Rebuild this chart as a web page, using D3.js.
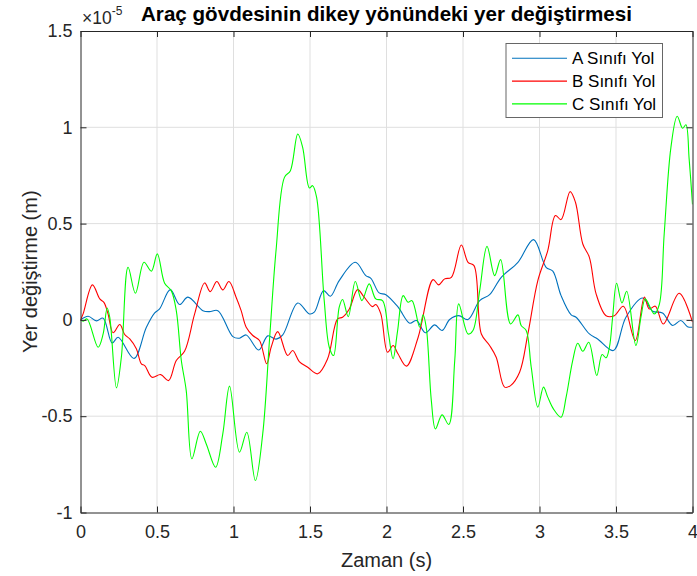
<!DOCTYPE html>
<html>
<head>
<meta charset="utf-8">
<script src="https://cdn.jsdelivr.net/npm/d3@7"></script>
<style>
  body { margin: 0; background: #fff; }
  svg { display: block; font-family: "Liberation Sans", Arial, Helvetica, sans-serif; }
</style>
</head>
<body>
<svg id="chart" width="697" height="576"></svg>
<script>
// values in units of 1e-5 m (axis shows the x10^-5 exponent)
var seriesNames = ["A Sınıfı Yol", "B Sınıfı Yol", "C Sınıfı Yol"];
var seriesColors = ["#0072BD", "#FF0000", "#00FF00"];

var tA = [0, 0.05, 0.104, 0.148, 0.207, 0.246, 0.35, 0.43, 0.485, 0.517, 0.587, 0.648, 0.702, 0.8, 0.843, 0.898,
  0.996, 1.039, 1.083, 1.165, 1.224, 1.278, 1.322, 1.42, 1.496, 1.528, 1.589, 1.633, 1.691, 1.796, 1.865, 1.898,
  1.952, 1.996, 2.076, 2.152, 2.196, 2.254, 2.315, 2.363, 2.413, 2.472, 2.533, 2.609, 2.674, 2.75, 2.859, 2.961,
  3.043, 3.087, 3.141, 3.207, 3.239, 3.326, 3.38, 3.483, 3.565, 3.674, 3.739, 3.804, 3.87, 3.924, 3.967, 4];
var vA = [0, 0.019, -0.005, 0.009, -0.12, -0.09, -0.2, -0.04, 0.036, 0.057, 0.157, 0.08, 0.118, 0.048, 0.043, 0.048,
  -0.087, -0.095, -0.078, -0.156, -0.083, -0.1, -0.078, 0.088, 0.031, 0.04, 0.152, 0.123, 0.204, 0.299, 0.23, 0.216,
  0.14, 0.131, 0.066, -0.017, -0.003, -0.067, -0.026, -0.055, 0.002, 0.022, 0.002, 0.1, 0.131, 0.221, 0.299, 0.417,
  0.273, 0.253, 0.126, 0.026, 0.014, -0.073, -0.099, -0.159, 0.014, 0.114, 0.045, 0.036, -0.029, -0.003, -0.035, -0.038];

var tB = [0, 0.017, 0.078, 0.126, 0.154, 0.18, 0.213, 0.257, 0.289, 0.322, 0.365, 0.398, 0.42, 0.467, 0.524, 0.576,
  0.626, 0.68, 0.746, 0.811, 0.848, 0.891, 0.93, 0.97, 1.017, 1.05, 1.083, 1.126, 1.17, 1.217, 1.246, 1.289,
  1.354, 1.387, 1.43, 1.485, 1.55, 1.615, 1.68, 1.713, 1.757, 1.811, 1.854, 1.909, 1.93, 1.963, 2.007, 2.043,
  2.075, 2.13, 2.207, 2.304, 2.341, 2.38, 2.424, 2.489, 2.533, 2.572, 2.62, 2.674, 2.717, 2.772, 2.811, 2.87,
  2.924, 2.989, 3.054, 3.104, 3.141, 3.2, 3.235, 3.283, 3.326, 3.37, 3.435, 3.489, 3.548, 3.626, 3.685, 3.717,
  3.757, 3.809, 3.913, 4];
var vB = [0, 0.031, 0.182, 0.109, 0.09, 0.031, -0.067, -0.024, -0.076, -0.099, -0.15, -0.228, -0.237, -0.298, -0.284, -0.315,
  -0.211, -0.163, 0.031, 0.192, 0.147, 0.199, 0.156, 0.199, 0.118, 0.048, -0.038, -0.081, -0.107, -0.228, -0.142, -0.061,
  -0.185, -0.159, -0.216, -0.246, -0.28, -0.202, 0.005, 0.014, 0.057, 0.157, 0.118, 0.069, 0.08, 0.031, -0.168, -0.133,
  -0.176, -0.24, -0.09, 0.209, 0.182, 0.213, 0.221, 0.389, 0.299, 0.282, -0.073, -0.133, -0.194, -0.349, -0.341, -0.272,
  -0.073, 0.204, 0.36, 0.542, 0.521, 0.666, 0.611, 0.394, 0.325, 0.135, 0.022, 0.022, 0.071, -0.107, 0.118, 0.057,
  0.071, -0.021, 0.138, -0.012];

var tC = [0, 0.017, 0.043, 0.115, 0.148, 0.174, 0.191, 0.235, 0.267, 0.311, 0.359, 0.415, 0.463, 0.502, 0.55, 0.593,
  0.626, 0.659, 0.691, 0.728, 0.783, 0.822, 0.883, 0.93, 0.974, 1.039, 1.087, 1.143, 1.191, 1.235, 1.278, 1.333,
  1.372, 1.42, 1.452, 1.496, 1.517, 1.543, 1.593, 1.626, 1.654, 1.691, 1.713, 1.75, 1.796, 1.839, 1.887, 1.93,
  1.974, 2.013, 2.043, 2.072, 2.109, 2.141, 2.167, 2.217, 2.239, 2.26, 2.293, 2.32, 2.363, 2.407, 2.446, 2.472,
  2.533, 2.565, 2.609, 2.657, 2.707, 2.746, 2.811, 2.859, 2.88, 2.913, 2.946, 2.989, 3.026, 3.054, 3.091, 3.141,
  3.174, 3.217, 3.25, 3.283, 3.322, 3.374, 3.409, 3.435, 3.457, 3.478, 3.504, 3.539, 3.57, 3.63, 3.663, 3.691,
  3.728, 3.75, 3.783, 3.815, 3.859, 3.9, 3.935, 3.957, 3.978, 4];
var vC = [0, -0.007, 0.005, -0.142, -0.073, 0.062, 0.014, -0.353, -0.194, 0.273, 0.138, 0.299, 0.253, 0.343, 0.19, 0.152,
  0.048, -0.211, -0.367, -0.721, -0.578, -0.644, -0.765, -0.592, -0.344, -0.687, -0.583, -0.834, -0.592, -0.107, 0.36, 0.74,
  0.775, 0.965, 0.896, 0.685, 0.697, 0.637, 0.1, -0.142, -0.185, 0.066, 0.106, 0.017, 0.199, 0.1, 0.187, 0.109,
  0.1, -0.073, -0.202, -0.06, 0.126, 0.092, 0.1, -0.038, 0.026, -0.04, -0.419, -0.566, -0.493, -0.543, -0.211, 0.083,
  -0.073, -0.055, 0.152, 0.382, 0.23, 0.313, -0.021, 0.026, -0.029, -0.055, -0.246, -0.453, -0.349, -0.401, -0.462, -0.505,
  -0.401, -0.211, -0.121, -0.163, -0.116, -0.289, -0.18, -0.197, -0.142, 0.014, 0.19, 0.088, 0.149, -0.133, 0.014, 0.109,
  0.057, 0.031, 0.08, 0.446, 0.896, 1.057, 0.995, 1.013, 0.836, 0.6];

var xTicks = [0, 0.5, 1, 1.5, 2, 2.5, 3, 3.5, 4];
var yTicks = [-1, -0.5, 0, 0.5, 1, 1.5];

var series = [
  { name: seriesNames[0], color: seriesColors[0], t: tA, v: vA },
  { name: seriesNames[1], color: seriesColors[1], t: tB, v: vB },
  { name: seriesNames[2], color: seriesColors[2], t: tC, v: vC }
];

var outerWidth = 697, outerHeight = 576;
var margin = { left: 80.5, top: 31, right: 4.5, bottom: 63.5 };
var innerWidth = outerWidth - margin.left - margin.right;
var innerHeight = outerHeight - margin.top - margin.bottom;
var axisColor = "#262626";

var svg = d3.select("#chart");
var g = svg.append("g").attr("transform", "translate(" + margin.left + "," + margin.top + ")");

var xScale = d3.scaleLinear().domain([0, 4]).range([0, innerWidth]);
var yScale = d3.scaleLinear().domain([-1, 1.5]).range([innerHeight, 0]);

// grid
g.append("g").selectAll("line").data(xTicks.slice(1, -1)).enter().append("line")
  .attr("x1", function (d) { return xScale(d); }).attr("x2", function (d) { return xScale(d); })
  .attr("y1", 0).attr("y2", innerHeight)
  .attr("stroke", "#dfdfdf").attr("stroke-width", 1);
g.append("g").selectAll("line").data(yTicks.slice(1, -1)).enter().append("line")
  .attr("y1", function (d) { return yScale(d); }).attr("y2", function (d) { return yScale(d); })
  .attr("x1", 0).attr("x2", innerWidth)
  .attr("stroke", "#dfdfdf").attr("stroke-width", 1);

// lines
var line = d3.line()
  .x(function (d) { return xScale(d[0]); })
  .y(function (d) { return yScale(d[1]); })
  .curve(d3.curveCatmullRom.alpha(0.5));

g.append("defs").append("clipPath").attr("id", "clip")
  .append("rect").attr("width", innerWidth).attr("height", innerHeight);

series.forEach(function (s) {
  var pts = s.t.map(function (t, i) { return [t, s.v[i]]; });
  g.append("path").datum(pts)
    .attr("clip-path", "url(#clip)")
    .attr("d", line)
    .attr("fill", "none")
    .attr("stroke", s.color)
    .attr("stroke-width", 1.1);
});

// axes (MATLAB style: box with inward ticks on all sides)
var tickLen = 6;
function styleAxis(sel) {
  sel.select(".domain").attr("stroke", axisColor).attr("stroke-width", 1);
  sel.selectAll(".tick line").attr("stroke", axisColor);
  sel.selectAll(".tick text").attr("fill", axisColor).style("font-size", "18px")
    .style("font-family", "'Liberation Sans', Arial, sans-serif");
}

var xAxisG = g.append("g").attr("transform", "translate(0," + innerHeight + ")")
  .call(d3.axisBottom(xScale).tickValues(xTicks).tickSizeInner(-tickLen).tickSizeOuter(0).tickPadding(13)
    .tickFormat(function (d) { return String(d); }));
styleAxis(xAxisG);

var xAxisTop = g.append("g")
  .call(d3.axisTop(xScale).tickValues(xTicks).tickSizeInner(-tickLen).tickSizeOuter(0));
styleAxis(xAxisTop);
xAxisTop.selectAll(".tick text").remove();

var yAxisG = g.append("g")
  .call(d3.axisLeft(yScale).tickValues(yTicks).tickSizeInner(-tickLen).tickSizeOuter(0).tickPadding(8)
    .tickFormat(function (d) { return String(d); }));
styleAxis(yAxisG);

var yAxisRight = g.append("g").attr("transform", "translate(" + innerWidth + ",0)")
  .call(d3.axisRight(yScale).tickValues(yTicks).tickSizeInner(-tickLen).tickSizeOuter(0));
styleAxis(yAxisRight);
yAxisRight.selectAll(".tick text").remove();

// exponent
var expo = svg.append("text").attr("x", 82).attr("y", 24)
  .attr("fill", axisColor).style("font-size", "17.5px");
expo.append("tspan").text("×10");
expo.append("tspan").attr("dy", -9).style("font-size", "12px").text("-5");

// title
svg.append("text")
  .attr("x", margin.left + innerWidth / 2).attr("y", 20.5)
  .attr("text-anchor", "middle")
  .style("font-size", "20.6px").style("font-weight", "bold")
  .attr("fill", "#000")
  .text("Araç gövdesinin dikey yönündeki yer değiştirmesi");

// axis labels
svg.append("text")
  .attr("x", margin.left + innerWidth / 2).attr("y", 566.5)
  .attr("text-anchor", "middle")
  .style("font-size", "20px").attr("fill", axisColor)
  .text("Zaman (s)");

svg.append("text")
  .attr("transform", "translate(36.5," + (margin.top + innerHeight / 2) + ") rotate(-90)")
  .attr("text-anchor", "middle")
  .style("font-size", "20px").attr("fill", axisColor)
  .text("Yer değiştirme (m)");

// legend
var legend = svg.append("g").attr("transform", "translate(506,43.5)");
legend.append("rect").attr("width", 156.5).attr("height", 74)
  .attr("fill", "#fff").attr("stroke", "#666").attr("stroke-width", 1);
series.forEach(function (s, i) {
  var yy = 14.8 + i * 22.8;
  legend.append("line").attr("x1", 6).attr("x2", 61).attr("y1", yy).attr("y2", yy)
    .attr("stroke", s.color).attr("stroke-width", 1.1);
  legend.append("text").attr("x", 66).attr("y", yy + 6)
    .style("font-size", "17px").attr("fill", "#000").text(s.name);
});
</script>
</body>
</html>
